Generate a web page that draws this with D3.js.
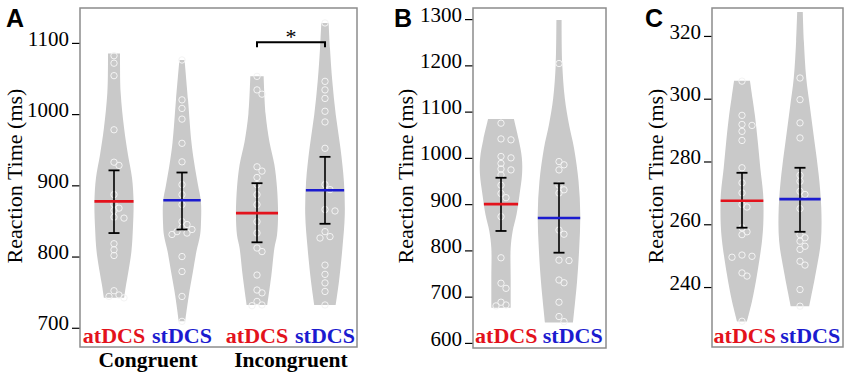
<!DOCTYPE html>
<html>
<head>
<meta charset="utf-8">
<script src="https://cdn.jsdelivr.net/npm/d3@7"></script>
</head>
<body style="margin:0; background:#fff">
<div id="chart"></div>
<script>
// ---- data ----
const groupNames = ['atDCS', 'stDCS']
const conditionsA = ['Congruent', 'Incongruent']
const ticksA = [700, 800, 900, 1000, 1100]
const ticksB = [600, 700, 800, 900, 1000, 1100, 1200, 1300]
const ticksC = [240, 260, 280, 300, 320]

// violin outlines: [reaction time, relative density]
const profileA = [
  [[1085,.28],[1070,.28],[1030,.31],[980,.47],[943,.65],[910,.84],[877,.91],[840,.88],[807,.81],[779,.67],[760,.56],[742,.47]],
  [[1076,.12],[1020,.28],[960,.44],[933,.56],[901,.74],[877,.88],[845,.88],[830,.84],[807,.67],[779,.51],[744,.31],[709,.15]],
  [[1053,.31],[1000,.40],[961,.58],[929,.81],[897,.93],[859,.98],[830,.93],[812,.81],[774,.67],[732,.48]],
  [[1128,.17],[1093,.23],[1046,.34],[999,.50],[952,.72],[905,.88],[859,.92],[812,.81],[765,.65],[732,.50]]
]
const profileB = [
  [[1084,.60],[1040,.82],[1000,.97],[965,.98],[920,.86],[877,.72],[841,.54],[805,.45],[740,.45],[676,.45]],
  [[1298,.12],[1204,.15],[1129,.27],[1071,.47],[1021,.70],[949,.91],[877,.99],[805,.94],[733,.84],[644,.65]]
]
const profileC = [
  [[305.7,.37],[300,.49],[294.7,.60],[286,.74],[278,.85],[270,.98],[266,1],[260,.99],[254.7,.93],[244,.70],[235.6,.47],[229,.23]],
  [[327.6,.13],[318.3,.18],[306.6,.29],[297,.47],[286.5,.67],[275.8,.87],[265.2,.99],[254.6,.97],[244,.72],[233.9,.43]]
]

// individual subjects
const pointsA = [
  [1082,1071.5,1054,978,932.5,928,887,873.6,868,864.7,855.4,854,818,809.5,801.5,752,746,744,742],
  [1076,1020,1008,993,959,933,901,887,873,849,845,841,838,835,833,831,800,779,744,709],
  [1053,1034,1028,926,920,911,901,887,873,849,833,812,807,774,753,749,737,732,731],
  [1128,1046,1034,1022,1004,989,952,901,894,866,864,835,828,826,788,775,763,751,732]
]
const pointsB = [
  [1075,1041,1039,1003,1000,988,976,974,963,941,923,914,873,784,729,718,688,682,680],
  [1204,992,985,974,941,931,924,844,835,779,778,736,730,688,657,646]
]
const pointsC = [
  [305.6,294.7,291.8,291.5,289.6,286.7,278,273.2,270,266.3,265.5,258.9,257.6,256.7,250.2,249.5,249.8,244.5,243.5,229.1],
  [306.6,299.7,292.3,287.5,275.6,273.7,270.5,269.5,265,256.7,255.7,254.6,253,252,248.2,247,239.2,233.9]
]

// mean and error bar limits
const meansA = [877.5, 879, 861, 893]
const lowA = [833, 838, 820, 846]
const highA = [921, 918, 903, 940]
const meansB = [900, 870]
const lowB = [842, 795]
const highB = [957, 945]
const meansC = [267.5, 268]
const lowC = [258.9, 257.6]
const highC = [276.4, 278]

const sigA = [{ from: 2, to: 3, value: 1101, label: '*' }]

// ---- drawing ----
const serif = 'Liberation Serif'
const red = '#e3121c'
const blue = '#1b1bcf'
const groupColor = g => g === 'atDCS' ? red : blue

const svg = d3.select('#chart').append('svg')
  .attr('width', 850)
  .attr('height', 376)

const halfW = d3.scaleLinear().domain([0, 1]).range([0, 21.5])

function densityAt(profile, v) {
  for (let i = 0; i < profile.length - 1; i++) {
    const a = profile[i], b = profile[i + 1]
    if (v <= a[0] && v >= b[0]) {
      const t = (a[0] - v) / (a[0] - b[0])
      return a[1] + t * (b[1] - a[1])
    }
  }
  return profile[profile.length - 1][1]
}

// place points so that close ones sit side by side
function dodge(values, y) {
  const placed = []
  const out = []
  const offs = [0, 5, -5, 10, -10, 15, -15]
  values.slice().sort((a, b) => b - a).forEach(v => {
    const py = y(v)
    let dx = 0
    for (const o of offs) {
      if (placed.every(p => Math.hypot(p[0] - o, p[1] - py) >= 5.5)) { dx = o; break }
    }
    placed.push([dx, py])
    out.push({ v: v, dx: dx })
  })
  return out
}

function drawPanel(p) {
  const g = svg.append('g')
  const [x0, y0, x1, y1] = p.box
  const y = d3.scaleLinear().domain(p.domain).range([y1, y0])

  // axis
  const axis = d3.axisLeft(y).tickValues(p.ticks).tickSize(8).tickPadding(3).tickFormat(d3.format('d'))
  const ax = g.append('g')
    .attr('transform', 'translate(' + x0 + ',0)')
    .call(axis)
    .attr('font-family', serif)
    .attr('font-size', 21)
  ax.select('.domain').remove()
  ax.selectAll('.tick line').attr('stroke', '#000').attr('stroke-width', 1.2)
  ax.selectAll('.tick text')
    .attr('fill', '#000')
    .attr('dy', '0.1em')

  g.append('text')
    .attr('transform', 'translate(' + p.titleX + ',176) rotate(-90)')
    .attr('text-anchor', 'middle')
    .attr('font-family', serif)
    .attr('font-size', 22)
    .text('Reaction Time (ms)')

  g.append('text')
    .attr('x', p.letterX)
    .attr('y', 27)
    .attr('font-family', 'Liberation Sans')
    .attr('font-weight', 'bold')
    .attr('font-size', 25)
    .text(p.letter)

  p.profiles.forEach((prof, i) => {
    const cx = p.vx(i)
    const area = d3.area()
      .curve(d3.curveCatmullRom)
      .y(d => y(d[0]))
      .x0(d => cx - halfW(d[1]))
      .x1(d => cx + halfW(d[1]))
    g.append('path')
      .attr('d', area(prof))
      .attr('fill', '#c9c9c9')

    dodge(p.points[i], y).forEach(d => {
      g.append('circle')
        .attr('cx', cx + d.dx)
        .attr('cy', y(d.v))
        .attr('r', 3.2)
        .attr('fill', 'none')
        .attr('stroke', '#f4f4f4')
        .attr('stroke-width', 1)
    })

    // error bar
    const cap = 5.5
    g.append('line')
      .attr('x1', cx).attr('x2', cx)
      .attr('y1', y(p.high[i])).attr('y2', y(p.low[i]))
      .attr('stroke', '#000').attr('stroke-width', 1.6)
    ;[p.high[i], p.low[i]].forEach(v => {
      g.append('line')
        .attr('x1', cx - cap).attr('x2', cx + cap)
        .attr('y1', y(v)).attr('y2', y(v))
        .attr('stroke', '#000').attr('stroke-width', 1.8)
    })

    // mean line
    const hw = halfW(densityAt(prof, p.means[i]))
    g.append('line')
      .attr('x1', cx - hw).attr('x2', cx + hw)
      .attr('y1', y(p.means[i])).attr('y2', y(p.means[i]))
      .attr('stroke', groupColor(p.groups[i]))
      .attr('stroke-width', 2.6)

    g.append('text')
      .attr('x', p.lx(i))
      .attr('y', 343)
      .attr('text-anchor', 'middle')
      .attr('fill', groupColor(p.groups[i]))
      .attr('font-family', serif)
      .attr('font-weight', 'bold')
      .attr('font-size', 22)
      .text(p.groups[i])
  })

  ;(p.sig || []).forEach(s => {
    const xa = p.vx(s.from), xb = p.vx(s.to), sy = y(s.value)
    g.append('path')
      .attr('d', 'M' + xa + ',' + (sy + 5) + 'V' + sy + 'H' + xb + 'V' + (sy + 5))
      .attr('fill', 'none')
      .attr('stroke', '#000')
      .attr('stroke-width', 2)
    g.append('text')
      .attr('x', (xa + xb) / 2)
      .attr('y', sy + 2)
      .attr('text-anchor', 'middle')
      .attr('font-family', serif)
      .attr('font-size', 22)
      .text(s.label)
  })

  g.append('rect')
    .attr('x', x0).attr('y', y0)
    .attr('width', x1 - x0).attr('height', y1 - y0)
    .attr('fill', 'none')
    .attr('stroke', '#8c8c8c')
    .attr('stroke-width', 1.5)
}

// panel A: two conditions, each split into atDCS / stDCS
const condX = d3.scalePoint().domain(conditionsA).range([148, 291])
const subOff = d3.scalePoint().domain(groupNames).range([-34, 34])
const xA = i => condX(conditionsA[Math.floor(i / 2)]) + subOff(groupNames[i % 2])

drawPanel({
  letter: 'A', letterX: 6, titleX: 22,
  box: [80, 8, 357, 347], domain: [673, 1149], ticks: ticksA,
  groups: [0, 1, 2, 3].map(i => groupNames[i % 2]),
  profiles: profileA, points: pointsA, means: meansA, low: lowA, high: highA,
  vx: xA, lx: xA, sig: sigA
})
conditionsA.forEach(c => {
  svg.append('text')
    .attr('x', condX(c))
    .attr('y', 367)
    .attr('text-anchor', 'middle')
    .attr('font-family', serif)
    .attr('font-weight', 'bold')
    .attr('font-size', 21.5)
    .text(c)
})

const vB = d3.scalePoint().domain(groupNames).range([501, 559])
const lB = d3.scaleBand().domain(groupNames).range([473, 606])
drawPanel({
  letter: 'B', letterX: 394, titleX: 413,
  box: [473, 8, 606, 348], domain: [589, 1324], ticks: ticksB,
  groups: groupNames,
  profiles: profileB, points: pointsB, means: meansB, low: lowB, high: highB,
  vx: i => vB(groupNames[i]), lx: i => lB(groupNames[i]) + lB.bandwidth() / 2
})

const vC = d3.scalePoint().domain(groupNames).range([742, 800])
const lC = d3.scaleBand().domain(groupNames).range([712, 843])
drawPanel({
  letter: 'C', letterX: 645, titleX: 663,
  box: [712, 8, 843, 347], domain: [220.9, 328.9], ticks: ticksC,
  groups: groupNames,
  profiles: profileC, points: pointsC, means: meansC, low: lowC, high: highC,
  vx: i => vC(groupNames[i]), lx: i => lC(groupNames[i]) + lC.bandwidth() / 2
})
</script>
</body>
</html>
